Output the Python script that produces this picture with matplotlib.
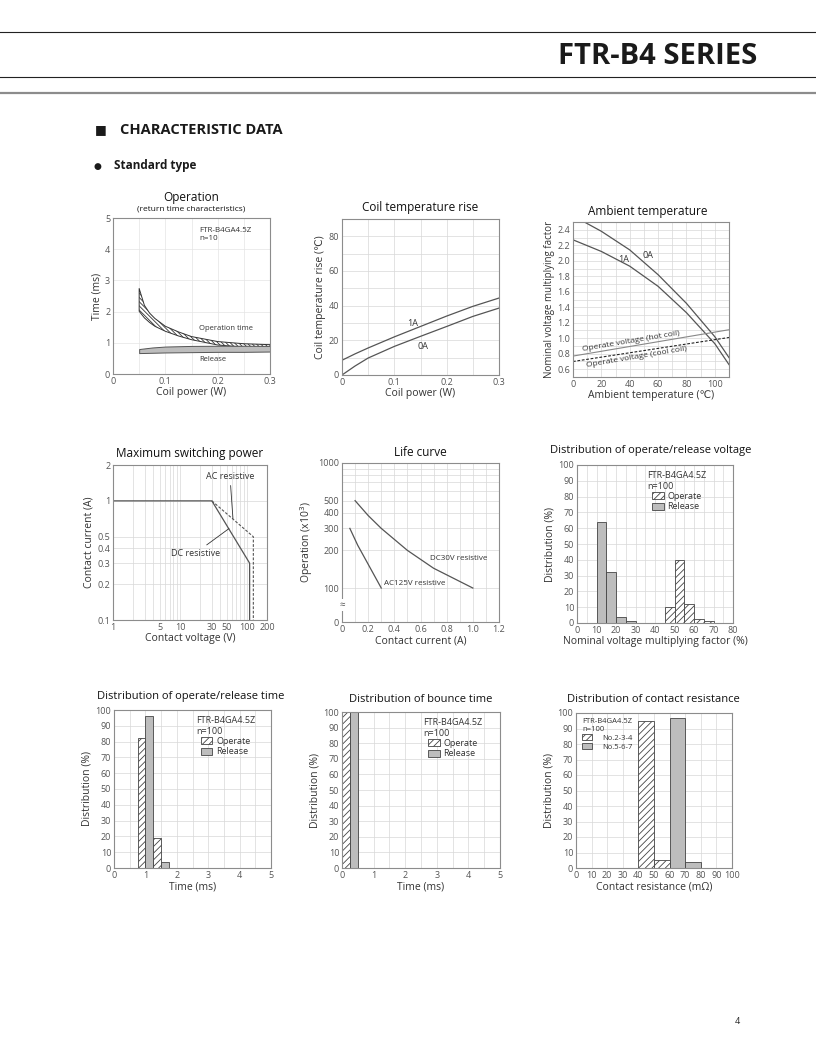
import matplotlib
matplotlib.use("Agg")
import matplotlib.pyplot as plt
from matplotlib import font_manager
from matplotlib.lines import Line2D
from matplotlib.ticker import FixedLocator, NullFormatter

# ---------------- data ----------------
# Operation (return time characteristics), FTR-B4GA4.5Z n=10
op_power = [0.05, 0.06, 0.07, 0.08, 0.1, 0.125, 0.15, 0.2, 0.25, 0.3]
op_time_hi = [2.74, 2.20, 1.95, 1.78, 1.53, 1.35, 1.20, 1.04, 0.97, 0.94]
op_time_lo = [2.01, 1.80, 1.65, 1.53, 1.37, 1.22, 1.10, 0.93, 0.86, 0.82]
rel_power = [0.05, 0.075, 0.1, 0.15, 0.2, 0.25, 0.3]
rel_time_hi = [0.80, 0.85, 0.88, 0.90, 0.905, 0.905, 0.90]
rel_time_lo = [0.67, 0.68, 0.69, 0.70, 0.71, 0.71, 0.72]

# Coil temperature rise
coil_power = [0, 0.025, 0.05, 0.1, 0.15, 0.2, 0.25, 0.3]
rise_1a = [8.5, 12.2, 15.6, 22.0, 28.0, 34.0, 39.6, 44.4]
rise_0a = [0, 5.2, 9.8, 16.5, 22.3, 28.0, 33.8, 38.6]

# Ambient temperature
amb_t_0a = [8, 20, 40, 60, 80, 100, 110]
amb_0a = [2.5, 2.38, 2.14, 1.82, 1.45, 1.02, 0.75]
amb_t_1a = [0, 20, 40, 60, 80, 100, 110]
amb_1a = [2.27, 2.12, 1.93, 1.67, 1.33, 0.93, 0.66]
amb_t_line = [0, 110]
hot_coil = [0.77, 1.11]
cool_coil = [0.70, 1.01]

# Maximum switching power
dc_volt = [1, 30, 110, 110]
dc_curr = [1, 1, 0.3, 0.1]
ac_volt = [30, 125, 125]
ac_curr = [1, 0.5, 0.1]

# Life curve
dc30_curr = [0.1, 0.2, 0.3, 0.5, 0.7, 1.0]
dc30_ops = [500, 380, 300, 200, 144, 100]
ac125_curr = [0.06, 0.12, 0.2, 0.3]
ac125_ops = [300, 220, 155, 100]

# Distribution of operate/release voltage
volt_rel_left = [10, 15, 20, 25]
volt_rel = [64, 32, 4, 1]
volt_op_left = [45, 50, 55, 60, 65]
volt_op = [10, 40, 12, 2.5, 1]

# Distribution of operate/release time
time_op_left = [0.75, 1.25]
time_op = [82, 19]
time_rel_left = [1.0, 1.5]
time_rel = [96, 4]

# Distribution of bounce time
bounce_op_left = [0]
bounce_op = [100]
bounce_rel_left = [0.25]
bounce_rel = [100]

# Distribution of contact resistance
res_a_left = [40, 50]
res_a = [95, 5]
res_b_left = [60, 70]
res_b = [97, 4]

W, H = 816, 1056
names = {f.name for f in font_manager.fontManager.ttflist}
FONT = next((n for n in ["Liberation Sans Narrow", "Open Sans", "DejaVu Sans"] if n in names), "DejaVu Sans")
plt.rcParams["font.family"] = [FONT, "DejaVu Sans"]
plt.rcParams["hatch.linewidth"] = 0.6
plt.rcParams["hatch.color"] = "#333333"

GRID = "#d8d8d8"
LINE = "#555555"
GREY = "#bdbdbd"
TXT = "#333333"


def rect(x0, y0, x1, y1):
    return [x0 / W, 1 - y1 / H, (x1 - x0) / W, (y1 - y0) / H]


def style(ax, xlabel, ylabel):
    for s in ax.spines.values():
        s.set_color("#8c8c8c")
        s.set_linewidth(0.8)
    ax.tick_params(which="both", length=0, labelsize=6.5, colors="#555555", pad=2)
    ax.set_axisbelow(True)
    ax.set_xlabel(xlabel, fontsize=7.5, color=TXT, labelpad=1)
    ax.set_ylabel(ylabel, fontsize=7.5, color=TXT, labelpad=2)


def title(fig, x, y, s, size=8.5):
    fig.text(x / W, 1 - y / H, s, ha="center", va="center", fontsize=size, color="#111111")


def dist_legend(ax, labels, anchor, head="FTR-B4GA4.5Z\nn=100", size=6.5, pad=0.4):
    handles = [plt.Rectangle((0, 0), 1, 1, facecolor="white", edgecolor="#444444", hatch="/////", lw=0.6),
               plt.Rectangle((0, 0), 1, 1, facecolor=GREY, edgecolor="#444444", lw=0.6)]
    leg = ax.legend(handles, labels, title=head, loc="upper center", bbox_to_anchor=anchor,
                    frameon=False, fontsize=size, title_fontsize=size, handlelength=1.3,
                    handleheight=0.8, handletextpad=pad, labelspacing=0.15, borderpad=0.2)
    leg.get_title().set_color(TXT)
    for t in leg.get_texts():
        t.set_color(TXT)


fig = plt.figure(figsize=(W / 100, H / 100), dpi=100)

# ---------------- page header ----------------
for y, c, lw in [(32, "#222222", 0.8), (77, "#222222", 0.8), (93, "#8c8c8c", 1.6)]:
    fig.add_artist(Line2D([0, 1], [1 - y / H, 1 - y / H], color=c, lw=lw, transform=fig.transFigure))
fig.text(757 / W, 1 - 57 / H, "FTR-B4 SERIES", ha="right", va="center", fontsize=21,
         fontweight="bold", color="#1a1a1a")
fig.text(95 / W, 1 - 130 / H, "\u25a0", ha="left", va="center", fontsize=9, color="#1a1a1a")
fig.text(120 / W, 1 - 130 / H, "CHARACTERISTIC DATA", ha="left", va="center", fontsize=10.5,
         fontweight="bold", color="#1a1a1a")
fig.text(94 / W, 1 - 166 / H, "\u25cf", ha="left", va="center", fontsize=6.5, color="#1a1a1a")
fig.text(114 / W, 1 - 166 / H, "Standard type", ha="left", va="center", fontsize=8.5,
         fontweight="bold", color="#1a1a1a")
fig.text(737 / W, 1 - 1022 / H, "4", ha="center", va="center", fontsize=6.5, color="#222222")

# ---------------- Operation ----------------
ax = fig.add_axes(rect(113, 218, 270, 374))
ax.fill_between(op_power, op_time_lo, op_time_hi, facecolor="white", edgecolor="#333333",
                hatch="\\\\\\\\\\\\\\\\", lw=0.7)
ax.fill_between(rel_power, rel_time_lo, rel_time_hi, facecolor=GREY, edgecolor="#555555", lw=0.7)
ax.set_xlim(0, 0.3)
ax.set_ylim(0, 5)
ax.set_xticks([0, 0.1, 0.2, 0.3], ["0", "0.1", "0.2", "0.3"])
ax.set_xticks([0.05, 0.15, 0.25], minor=True)
ax.set_yticks(range(6))
ax.grid(which="both", color="#e4e4e4", lw=0.5)
ax.text(0.55, 0.94, "FTR-B4GA4.5Z\nn=10", transform=ax.transAxes, fontsize=5.8, color=TXT,
        va="top", linespacing=1.1)
ax.text(0.55, 0.29, "Operation time", transform=ax.transAxes, fontsize=5.5, color=TXT, va="center")
ax.text(0.55, 0.096, "Release", transform=ax.transAxes, fontsize=5.5, color=TXT, va="center")
style(ax, "Coil power (W)", "Time (ms)")
title(fig, 191, 197, "Operation")
title(fig, 191, 209, "(return time characteristics)", size=6)

# ---------------- Coil temperature rise ----------------
ax = fig.add_axes(rect(342, 219, 499, 375))
ax.plot(coil_power, rise_1a, color=LINE, lw=0.9)
ax.plot(coil_power, rise_0a, color=LINE, lw=0.9)
ax.set_xlim(0, 0.3)
ax.set_ylim(0, 90)
ax.set_xticks([0, 0.1, 0.2, 0.3], ["0", "0.1", "0.2", "0.3"])
ax.set_xticks([0.05, 0.15, 0.25], minor=True)
ax.set_yticks([0, 20, 40, 60, 80])
ax.set_yticks([10, 30, 50, 70, 90], minor=True)
ax.grid(which="both", color=GRID, lw=0.5)
ax.text(0.135, 29.5, "1A", fontsize=6.5, color=TXT, ha="center", va="center")
ax.text(0.155, 16.5, "0A", fontsize=6.5, color=TXT, ha="center", va="center")
style(ax, "Coil power (W)", "Coil temperature rise (\u2103)")
title(fig, 420, 207, "Coil temperature rise")

# ---------------- Ambient temperature ----------------
ax = fig.add_axes(rect(573, 222, 729, 377))
ax.plot(amb_t_0a, amb_0a, color=LINE, lw=0.9)
ax.plot(amb_t_1a, amb_1a, color=LINE, lw=0.9)
ax.plot(amb_t_line, hot_coil, color="#888888", lw=0.8)
ax.plot(amb_t_line, cool_coil, color="#222222", lw=0.8, ls=(0, (2.5, 1.5)))
ax.set_xlim(0, 110)
ax.set_ylim(0.5, 2.5)
ax.set_xticks([0, 20, 40, 60, 80, 100])
ax.set_xticks([10, 30, 50, 70, 90, 110], minor=True)
ax.set_yticks([0.6, 0.8, 1.0, 1.2, 1.4, 1.6, 1.8, 2.0, 2.2, 2.4],
              ["0.6", "0.8", "1.0", "1.2", "1.4", "1.6", "1.8", "2.0", "2.2", "2.4"])
ax.set_yticks([0.7, 0.9, 1.1, 1.3, 1.5, 1.7, 1.9, 2.1, 2.3], minor=True)
ax.grid(which="both", color=GRID, lw=0.5)
ax.text(53, 2.07, "0A", fontsize=6.5, color=TXT, ha="center", va="center")
ax.text(36, 2.02, "1A", fontsize=6.5, color=TXT, ha="center", va="center")
ax.text(41, 0.965, "Operate voltage (hot coil)", fontsize=6, color=TXT, ha="center",
        va="center", rotation=9.5)
ax.text(45, 0.75, "Operate voltage (cool coil)", fontsize=6, color=TXT, ha="center",
        va="center", rotation=9.5)
style(ax, "Ambient temperature (\u2103)", "Nominal voltage multiplying factor")
ax.yaxis.label.set_size(7)
title(fig, 648, 211, "Ambient temperature")

# ---------------- Maximum switching power ----------------
ax = fig.add_axes(rect(113, 465, 267, 620))
ax.set_xscale("log")
ax.set_yscale("log")
ax.plot(dc_volt, dc_curr, color=LINE, lw=0.9)
ax.plot(ac_volt, ac_curr, color=LINE, lw=0.8, ls=(0, (2.5, 1.5)))
ax.set_xlim(1, 200)
ax.set_ylim(0.1, 2)
ax.set_xticks([1, 5, 10, 30, 50, 100, 200], ["1", "5", "10", "30", "50", "100", "200"])
ax.xaxis.set_minor_locator(FixedLocator([2, 3, 4, 6, 7, 8, 9, 20, 40, 60, 70, 80, 90]))
ax.xaxis.set_minor_formatter(NullFormatter())
ax.set_yticks([0.1, 0.2, 0.3, 0.4, 0.5, 1, 2], ["0.1", "0.2", "0.3", "0.4", "0.5", "1", "2"])
ax.yaxis.set_minor_locator(FixedLocator([]))
ax.grid(which="both", color=GRID, lw=0.5)
ax.annotate("AC resistive", xy=(62, 0.71), xytext=(56, 1.59), fontsize=6.5, color=TXT,
            ha="center", va="center", arrowprops=dict(arrowstyle="-", color="#333333", lw=0.6,
                                                      shrinkA=1, shrinkB=0))
ax.annotate("DC resistive", xy=(54, 0.585), xytext=(40, 0.365), fontsize=6.5, color=TXT,
            ha="right", va="center", arrowprops=dict(arrowstyle="-", color="#333333", lw=0.6,
                                                     shrinkA=1, shrinkB=0))
style(ax, "Contact voltage (V)", "Contact current (A)")
title(fig, 190, 454, "Maximum switching power")

# ---------------- Life curve ----------------
ax = fig.add_axes(rect(342, 463, 499, 622))
ax.set_yscale("log")
ax.plot(dc30_curr, dc30_ops, color=LINE, lw=0.9)
ax.plot(ac125_curr, ac125_ops, color=LINE, lw=0.9)
ax.set_xlim(0, 1.2)
ax.set_ylim(53.5, 1000)
ax.set_xticks([0, 0.2, 0.4, 0.6, 0.8, 1.0, 1.2], ["0", "0.2", "0.4", "0.6", "0.8", "1.0", "1.2"])
ax.set_xticks([0.1, 0.3, 0.5, 0.7, 0.9, 1.1], minor=True)
ax.set_yticks([53.5, 100, 200, 300, 400, 500, 1000], ["0", "100", "200", "300", "400", "500", "1000"])
ax.yaxis.set_minor_locator(FixedLocator([600, 700, 800, 900]))
ax.yaxis.set_minor_formatter(NullFormatter())
ax.grid(which="both", color=GRID, lw=0.5)
ax.text(0, 73, "\u2248", fontsize=7, color="#555555", ha="center", va="center",
        bbox=dict(facecolor="white", edgecolor="none", pad=0.2))
ax.text(0.67, 172, "DC30V resistive", fontsize=5.8, color=TXT, va="center")
ax.text(0.32, 108, "AC125V resistive", fontsize=5.8, color=TXT, va="center")
style(ax, "Contact current (A)", "Operation (x10$^3$)")
title(fig, 420, 453, "Life curve")

# ---------------- Distribution of operate/release voltage ----------------
ax = fig.add_axes(rect(577, 465, 733, 623))
ax.bar(volt_rel_left, volt_rel, width=5, align="edge", facecolor=GREY, edgecolor="#444444", lw=0.6)
ax.bar(volt_op_left, volt_op, width=5, align="edge", facecolor="white", edgecolor="#444444",
       hatch="/////", lw=0.6)
ax.set_xlim(0, 80)
ax.set_ylim(0, 100)
ax.set_xticks(range(0, 81, 10))
ax.set_xticks(range(5, 80, 10), minor=True)
ax.set_yticks(range(0, 101, 10))
ax.grid(which="both", color=GRID, lw=0.5)
dist_legend(ax, ["Operate", "Release"], (0.64, 1.0))
style(ax, "Nominal voltage multiplying factor (%)", "Distribution (%)")
title(fig, 651, 451, "Distribution of operate/release voltage", size=8)

# ---------------- Distribution of operate/release time ----------------
ax = fig.add_axes(rect(114, 710, 271, 868))
ax.bar(time_op_left, time_op, width=0.25, align="edge", facecolor="white", edgecolor="#444444",
       hatch="/////", lw=0.6)
ax.bar(time_rel_left, time_rel, width=0.25, align="edge", facecolor=GREY, edgecolor="#444444", lw=0.6)
ax.set_xlim(0, 5)
ax.set_ylim(0, 100)
ax.set_xticks(range(6))
ax.set_xticks([0.5, 1.5, 2.5, 3.5, 4.5], minor=True)
ax.set_yticks(range(0, 101, 10))
ax.grid(which="both", color=GRID, lw=0.5)
dist_legend(ax, ["Operate", "Release"], (0.71, 1.0))
style(ax, "Time (ms)", "Distribution (%)")
title(fig, 191, 697, "Distribution of operate/release time", size=8)

# ---------------- Distribution of bounce time ----------------
ax = fig.add_axes(rect(342, 712, 500, 868))
ax.bar(bounce_op_left, bounce_op, width=0.25, align="edge", facecolor="white", edgecolor="#444444",
       hatch="/////", lw=0.6)
ax.bar(bounce_rel_left, bounce_rel, width=0.25, align="edge", facecolor=GREY, edgecolor="#444444", lw=0.6)
ax.set_xlim(0, 5)
ax.set_ylim(0, 100)
ax.set_xticks(range(6))
ax.set_xticks([0.5, 1.5, 2.5, 3.5, 4.5], minor=True)
ax.set_yticks(range(0, 101, 10))
ax.grid(which="both", color=GRID, lw=0.5)
dist_legend(ax, ["Operate", "Release"], (0.70, 1.0))
style(ax, "Time (ms)", "Distribution (%)")
title(fig, 421, 699, "Distribution of bounce time", size=8)

# ---------------- Distribution of contact resistance ----------------
ax = fig.add_axes(rect(576, 713, 732, 868))
ax.bar(res_a_left, res_a, width=10, align="edge", facecolor="white", edgecolor="#444444",
       hatch="/////", lw=0.6)
ax.bar(res_b_left, res_b, width=10, align="edge", facecolor=GREY, edgecolor="#444444", lw=0.6)
ax.set_xlim(0, 100)
ax.set_ylim(0, 100)
ax.set_xticks(range(0, 101, 10))
ax.set_yticks(range(0, 101, 10))
ax.grid(which="both", color=GRID, lw=0.5)
dist_legend(ax, ["No.2-3-4", "No.5-6-7"], (0.2, 1.0), size=5.5, pad=1.4)
style(ax, "Contact resistance (m\u03a9)", "Distribution (%)")
title(fig, 653, 700, "Distribution of contact resistance", size=8)

fig.savefig("out.png", dpi=100)
